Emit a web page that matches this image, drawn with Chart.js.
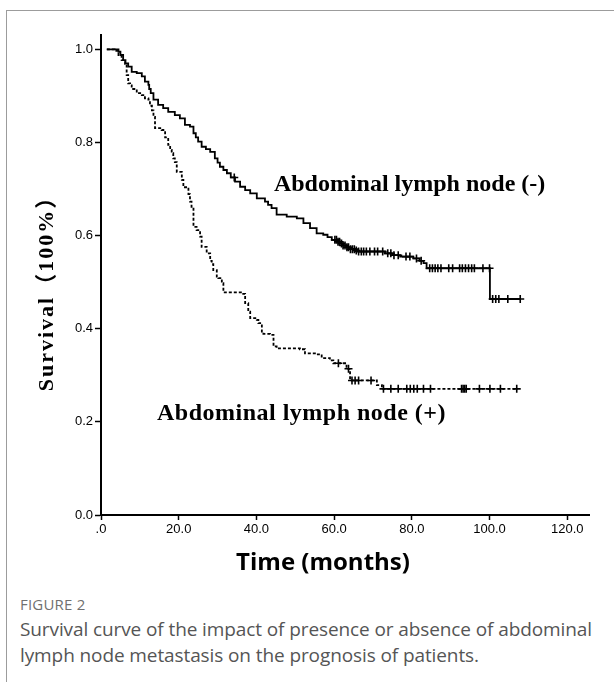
<!DOCTYPE html>
<html>
<head>
<meta charset="utf-8">
<script src="https://cdn.jsdelivr.net/npm/chart.js@4.4.1/dist/chart.umd.min.js"></script>
<style>
  html, body { margin: 0; padding: 0; background: #fff; }
  body { width: 614px; height: 682px; position: relative; overflow: hidden; }
  #frame { position: absolute; left: 6px; top: 10px; width: 700px; height: 700px; border: 1px solid #9c9c9c; }
  #wrap { position: absolute; left: 0; top: 0; width: 614px; height: 590px; }
  #caption { position: absolute; left: 20px; top: 592px; font-family: "Open Sans", sans-serif; }
  #caption .fig { font-size: 15px; color: #707070; letter-spacing: 0.2px; line-height: 24px; }
  #caption .txt { font-size: 19px; color: #555; line-height: 26px; letter-spacing: -0.1px; }
</style>
</head>
<body>
<div id="frame"></div>
<div id="wrap"><canvas id="km" width="614" height="590"></canvas></div>
<div id="caption">
  <div class="fig">FIGURE 2</div>
  <div class="txt">Survival curve of the impact of presence or absence of abdominal<br>lymph node metastasis on the prognosis of patients.</div>
</div>
<script>
// Abdominal lymph node (-) : step points (months, survival) and censored times
const negTimes = [1.5, 4.5, 5.0, 5.7, 6.3, 7.0, 7.9, 9.2, 10.5, 11.3, 12.2, 12.4, 12.8, 13.5, 14.7, 16.0, 17.3, 19.0, 20.3,
  21.6, 22.9, 23.8, 24.4, 25.0, 25.9, 27.0, 28.1, 29.3, 30.0, 30.6, 31.5, 32.4, 33.4, 34.5, 35.8, 37.1, 38.4, 40.1,
  42.2, 43.0, 43.9, 45.2, 47.8, 50.4, 52.1, 53.8, 55.5, 57.2, 58.3, 59.4, 60.8, 61.5, 62.3, 63.2, 64.2, 65.3, 66.2,
  73.1, 75.0, 77.0, 80.4, 82.0, 83.0, 83.8, 100.1, 107.9];
const negSurv = [1.0, 0.995, 0.988, 0.977, 0.970, 0.963, 0.952, 0.949, 0.942, 0.931, 0.924, 0.915, 0.906, 0.892, 0.881,
  0.874, 0.866, 0.859, 0.852, 0.838, 0.834, 0.820, 0.811, 0.802, 0.791, 0.786, 0.780, 0.766, 0.757, 0.748, 0.741,
  0.734, 0.725, 0.716, 0.705, 0.698, 0.691, 0.680, 0.673, 0.666, 0.659, 0.645, 0.641, 0.637, 0.627, 0.616, 0.605,
  0.602, 0.597, 0.591, 0.587, 0.583, 0.579, 0.575, 0.571, 0.568, 0.566, 0.562, 0.558, 0.555, 0.551, 0.546, 0.541,
  0.530, 0.464, 0.464];
const negCensor = [34.3, 60.2, 60.6, 61.0, 61.4, 61.9, 62.3, 62.8, 63.3, 63.7, 64.2, 64.7, 65.2, 65.7, 66.3, 67.0,
  67.6, 68.3, 69.2, 70.4, 71.2, 72.5, 73.8, 74.6, 75.4, 76.5, 78.5, 79.5, 81.2, 82.4, 84.6, 85.3, 86.0, 86.7, 87.5,
  89.5, 90.5, 92.3, 93.0, 93.8, 94.6, 95.4, 96.1, 98.3, 100.0, 100.8, 101.6, 102.4, 104.7, 107.9];

// Abdominal lymph node (+)
const posTimes = [1.5, 3.5, 4.5, 5.3, 6.2, 6.6, 7.0, 7.5, 7.9, 9.2, 10.5, 11.3, 12.2, 12.6, 13.1, 13.5, 13.9, 15.6,
  16.5, 17.3, 17.8, 18.2, 18.6, 19.0, 19.5, 20.8, 21.2, 22.5, 22.9, 23.3, 23.8, 24.6, 25.5, 25.9, 27.2, 28.1, 28.5,
  28.9, 29.8, 30.2, 31.1, 31.5, 36.6, 37.1, 37.9, 38.4, 40.1, 40.5, 41.4, 41.8, 43.5, 44.4, 45.2, 51.2, 52.5, 55.5,
  56.8, 58.9, 59.8, 63.2, 64.1, 71.0, 72.3, 107.3];
const posSurv = [1.0, 0.997, 0.988, 0.977, 0.969, 0.945, 0.927, 0.923, 0.915, 0.906, 0.902, 0.895, 0.892, 0.879,
  0.869, 0.855, 0.831, 0.827, 0.811, 0.795, 0.784, 0.777, 0.766, 0.758, 0.737, 0.720, 0.704, 0.689, 0.673, 0.662,
  0.619, 0.612, 0.598, 0.576, 0.562, 0.546, 0.539, 0.526, 0.512, 0.509, 0.498, 0.478, 0.475, 0.455, 0.437, 0.423,
  0.419, 0.412, 0.394, 0.389, 0.387, 0.362, 0.358, 0.356, 0.347, 0.345, 0.337, 0.332, 0.326, 0.314, 0.289, 0.279,
  0.271, 0.271];
const posCensor = [61.1, 63.7, 64.6, 65.4, 66.3, 69.5, 72.7, 74.6, 76.5, 78.7, 79.6, 80.5, 81.4, 83.0, 84.8, 92.8,
  93.2, 93.6, 94.0, 97.4, 100.1, 102.8, 107.0];

const xTicks = [0, 20, 40, 60, 80, 100, 120];
const xTickLabels = ['.0', '20.0', '40.0', '60.0', '80.0', '100.0', '120.0'];
const yTicks = [0, 0.2, 0.4, 0.6, 0.8, 1.0];
const yTickLabels = ['0.0', '0.2', '0.4', '0.6', '0.8', '1.0'];

// survival value of the step curve at time t
function survAt(times, surv, t) {
  let s = surv[0];
  for (let i = 0; i < times.length; i++) {
    if (times[i] <= t) s = surv[i];
  }
  return s;
}

const toPoints = (times, surv) => times.map((t, i) => ({ x: t, y: surv[i] }));
const toCensor = (cens, times, surv) => cens.map(t => ({ x: t, y: survAt(times, surv, t) }));

// texts drawn on the canvas
const textPlugin = {
  id: 'texts',
  afterDraw(chart) {
    const ctx = chart.ctx;
    const xs = chart.scales.x, ys = chart.scales.y;
    ctx.save();
    ctx.fillStyle = '#000';
    ctx.textBaseline = 'alphabetic';
    ctx.textAlign = 'left';
    ctx.font = "bold 24px 'Liberation Serif'";
    ctx.letterSpacing = '0px';
    ctx.fillText('Abdominal lymph node (-)', xs.getPixelForValue(44.5), ys.getPixelForValue(0.696));
    ctx.letterSpacing = '0.5px';
    ctx.fillText('Abdominal lymph node (+)', xs.getPixelForValue(14.4), ys.getPixelForValue(0.204));

    // x title
    ctx.letterSpacing = '0px';
    ctx.textAlign = 'center';
    ctx.textBaseline = 'middle';
    ctx.font = "bold 24px 'Open Sans'";
    ctx.fillText('Time (months)', 323, 563);

    // y title
    ctx.translate(47, 288);
    ctx.rotate(-Math.PI / 2);
    ctx.letterSpacing = '2px';
    ctx.font = "bold 22px 'Liberation Serif', 'Noto Sans CJK SC'";
    ctx.fillText('Survival（100%）', 0, 0);
    ctx.restore();
  }
};

new Chart(document.getElementById('km'), {
  type: 'scatter',
  data: {
    datasets: [
      {
        label: 'Abdominal lymph node (-)',
        data: toPoints(negTimes, negSurv),
        showLine: true,
        stepped: true,
        borderColor: '#000',
        borderWidth: 1.8,
        pointRadius: 0,
        fill: false
      },
      {
        label: 'Abdominal lymph node (+)',
        data: toPoints(posTimes, posSurv),
        showLine: true,
        stepped: true,
        borderColor: '#000',
        borderWidth: 1.8,
        borderDash: [3, 2],
        pointRadius: 0,
        fill: false
      },
      {
        label: 'censored (-)',
        data: toCensor(negCensor, negTimes, negSurv),
        showLine: false,
        pointStyle: 'cross',
        pointRadius: 4,
        pointBorderWidth: 1.6,
        borderColor: '#000'
      },
      {
        label: 'censored (+)',
        data: toCensor(posCensor, posTimes, posSurv),
        showLine: false,
        pointStyle: 'cross',
        pointRadius: 4,
        pointBorderWidth: 1.6,
        borderColor: '#000'
      }
    ]
  },
  options: {
    responsive: false,
    animation: false,
    layout: { padding: { top: 35, right: 25, left: 0, bottom: 0 } },
    plugins: { legend: { display: false }, tooltip: { enabled: false } },
    scales: {
      x: {
        type: 'linear',
        min: 0,
        max: 125.6,
        afterBuildTicks: scale => { scale.ticks = xTicks.map(v => ({ value: v })); },
        afterFit: scale => { scale.height = 75; },
        ticks: {
          color: '#000',
          padding: 2,
          maxRotation: 0,
          font: { family: "'Liberation Sans'", size: 13 },
          callback: (v, i) => xTickLabels[i]
        },
        grid: { drawOnChartArea: false, color: '#000', tickLength: 5, tickWidth: 1.5 },
        border: { display: true, color: '#000', width: 2 }
      },
      y: {
        type: 'linear',
        min: 0,
        max: 1.031,
        afterBuildTicks: scale => { scale.ticks = yTicks.map(v => ({ value: v })); },
        afterFit: scale => { scale.width = 101; },
        ticks: {
          color: '#000',
          padding: 2,
          font: { family: "'Liberation Sans'", size: 13 },
          callback: (v, i) => yTickLabels[i]
        },
        grid: { drawOnChartArea: false, color: '#000', tickLength: 6, tickWidth: 1.5 },
        border: { display: true, color: '#000', width: 2 }
      }
    }
  },
  plugins: [textPlugin]
});
</script>
</body>
</html>
